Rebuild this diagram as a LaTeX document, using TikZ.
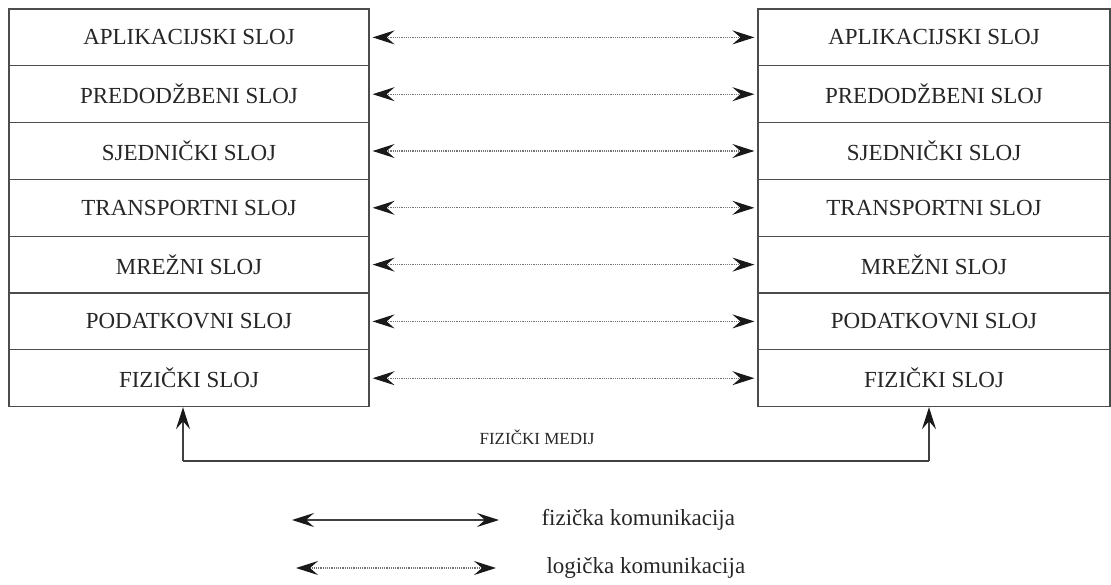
\documentclass[tikz,border=0pt]{standalone}
\usepackage{fontspec}
\setmainfont{Liberation Serif}
\usetikzlibrary{arrows.meta}

\tikzset{
  layer/.style={draw=black!70, line width=1.2pt, minimum height=56.8, inner sep=0pt,
    text=black!85, font=\fontsize{23}{25}\selectfont},
  logical/.style={densely dotted, line width=1.2pt, black!55,
    {Stealth[length=22, width=14, inset=8, black!90]}-{Stealth[length=22, width=14, inset=8, black!90]},
    shorten <=3pt, shorten >=3pt},
  physical/.style={line width=1.2pt, black!75},
  legendtext/.style={anchor=west, text=black!85, font=\fontsize{23}{25}\selectfont}
}

\begin{document}
\begin{tikzpicture}[x=1pt, y=-1pt]
\useasboundingbox (0,0) rectangle (1111,584);

% Draw the two stacks of layers
\foreach \name [count=\i] in {APLIKACIJSKI SLOJ, PREDODŽBENI SLOJ, SJEDNIČKI SLOJ,
    TRANSPORTNI SLOJ, MREŽNI SLOJ, PODATKOVNI SLOJ, FIZIČKI SLOJ} {
  \node[layer, minimum width=360] (L\i) at (189, {9+56.8*(\i-0.5)}) {\name};
  \node[layer, minimum width=352] (R\i) at (934, {9+56.8*(\i-0.5)}) {\name};
}

% Draw the logical links between equal layers
\foreach \i in {1,...,7}
  \draw[logical] (L\i.east) -- (R\i.east -| R\i.west);

% Define the ends of the physical medium
\coordinate (ml) at (183,461);
\coordinate (mr) at (929,461);

% Draw the physical medium
\draw[physical] (ml) -- (mr);
\draw[physical, -{Stealth[length=22, width=14, inset=8, black!90]}] (ml) -- (ml |- L7.south);
\draw[physical, -{Stealth[length=22, width=14, inset=8, black!90]}] (mr) -- (mr |- R7.south);
\node[text=black!85, font=\fontsize{17}{19}\selectfont] (medij) at (537,437) {FIZIČKI MEDIJ};

%%%%%%%%%%

% Define the ends of the legend arrows
\coordinate (fa) at (292,520);
\coordinate (fb) at (499,520);
\coordinate (la) at (296,568);
\coordinate (lb) at (496,568);

% Draw the legend
\draw[physical, {Stealth[length=22, width=14, inset=8, black!90]}-{Stealth[length=22, width=14, inset=8, black!90]}] (fa) -- (fb);
\draw[logical, shorten <=0pt, shorten >=0pt] (la) -- (lb);
\node[legendtext] (fizicka) at (538,520) {fizička komunikacija};
\node[legendtext] (logicka) at (543,568) {logička komunikacija};
\end{tikzpicture}
\end{document}
